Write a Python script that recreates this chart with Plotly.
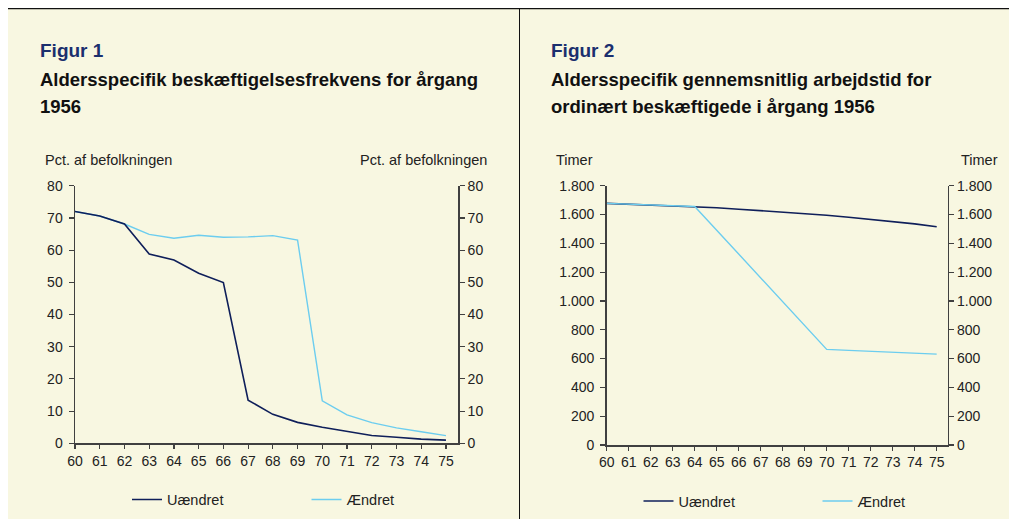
import plotly.graph_objects as go

# ---------------- data ----------------
ages = list(range(60, 76))
age_ticks = [str(a) for a in ages]

# Figur 1: Pct. af befolkningen
beskaeft_uaendret = [72.0, 70.6, 68.1, 58.8, 56.9, 52.8, 49.9, 13.4, 9.0, 6.5, 5.0, 3.6, 2.4, 1.9, 1.3, 1.0]
beskaeft_aendret = [72.0, 70.6, 68.1, 64.9, 63.7, 64.6, 64.0, 64.1, 64.5, 63.1, 13.2, 8.8, 6.4, 4.8, 3.6, 2.4]

# Figur 2: Timer
timer_uaendret = [1677, 1672, 1667, 1662, 1656, 1647, 1637, 1627, 1617, 1606, 1595, 1581, 1567, 1552, 1535, 1515]
timer_aendret = [1677, 1672, 1667, 1662, 1656, 1491, 1325, 1160, 995, 829, 664, 657, 650, 644, 637, 631]

series_names = ["Uændret", "Ændret"]
fig1_title = ["Figur 1", "Aldersspecifik beskæftigelsesfrekvens for årgang", "1956"]
fig2_title = ["Figur 2", "Aldersspecifik gennemsnitlig arbejdstid for", "ordinært beskæftigede i årgang 1956"]
fig1_unit = "Pct. af befolkningen"
fig2_unit = "Timer"

# ---------------- style ----------------
# The page keeps the browser's default 8px body margin, so the figure is
# sized to fit the 1017x527 window exactly and placed at (8, 8).
OFF = 8
W, H = 1017 - 2 * OFF, 527 - 2 * OFF
CREAM = "#f8f7e1"
NAVY = "#0f1f5a"
LIGHT = "#6ccdef"
TITLE_NAVY = "#1b2f6e"
AXIS = "#404040"
TXT = "#222222"
FONT = "Liberation Sans, Arial, Helvetica, sans-serif"


def px(x):
    """page x (pixels) -> paper x"""
    return (x - OFF) / W


def py(y):
    """page y (pixels, from top) -> paper y"""
    return 1 - (y - OFF) / H


fig = go.Figure()

# Figure 1 traces (light first, dark on top)
fig.add_trace(go.Scatter(x=ages, y=beskaeft_aendret, mode="lines", name=series_names[1],
                         line=dict(color=LIGHT, width=1.4), xaxis="x", yaxis="y", legend="legend2"))
fig.add_trace(go.Scatter(x=ages, y=beskaeft_uaendret, mode="lines", name=series_names[0],
                         line=dict(color=NAVY, width=1.6), xaxis="x", yaxis="y", legend="legend"))
# Figure 2 traces (dark first, light on top)
fig.add_trace(go.Scatter(x=ages, y=timer_uaendret, mode="lines", name=series_names[0],
                         line=dict(color=NAVY, width=1.6), xaxis="x2", yaxis="y3", legend="legend3"))
fig.add_trace(go.Scatter(x=ages, y=timer_aendret, mode="lines", name=series_names[1],
                         line=dict(color=LIGHT, width=1.4), xaxis="x2", yaxis="y3", legend="legend4"))
# invisible traces to activate the secondary (right) y axes
fig.add_trace(go.Scatter(x=[ages[0]], y=[beskaeft_uaendret[0]], mode="lines", showlegend=False,
                         hoverinfo="skip", line=dict(width=0), xaxis="x", yaxis="y2"))
fig.add_trace(go.Scatter(x=[ages[0]], y=[timer_uaendret[0]], mode="lines", showlegend=False,
                         hoverinfo="skip", line=dict(width=0), xaxis="x2", yaxis="y4"))

tickfont = dict(family=FONT, size=14, color=TXT)

xcommon = dict(range=[60, 75.5], tickmode="array", tickvals=ages, ticktext=age_ticks,
               showline=True, linecolor=AXIS, linewidth=1.5, ticks="outside", ticklen=4,
               tickcolor=AXIS, tickwidth=1.2, showgrid=False, zeroline=False, tickfont=tickfont,
               fixedrange=True, automargin=False)
ycommon = dict(showline=True, linecolor=AXIS, linewidth=1.5, ticks="outside", ticklen=5,
               tickcolor=AXIS, tickwidth=1.2, showgrid=False, zeroline=False, tickfont=tickfont,
               fixedrange=True, automargin=False)

L_dom_x = [px(75), px(458.3)]
L_dom_y = [py(443.3), py(185.7)]
R_dom_x = [px(606.7), px(947.7)]
R_dom_y = [py(445), py(185.7)]

fig.update_layout(
    template="none",
    width=W, height=H, autosize=False,
    margin=dict(l=0, r=0, t=0, b=0, pad=0, autoexpand=False),
    paper_bgcolor=CREAM, plot_bgcolor="rgba(0,0,0,0)",
    font=dict(family=FONT, color=TXT),
    separators=",.",
    xaxis=dict(domain=L_dom_x, anchor="y", **xcommon),
    yaxis=dict(domain=L_dom_y, anchor="x", range=[0, 80], dtick=10, tick0=0, side="left",
               ticklabelstandoff=3, **ycommon),
    yaxis2=dict(domain=L_dom_y, anchor="x", overlaying="y", range=[0, 80], dtick=10, tick0=0,
                side="right", **ycommon),
    xaxis2=dict(domain=R_dom_x, anchor="y3", **xcommon),
    yaxis3=dict(domain=R_dom_y, anchor="x2", range=[0, 1800], dtick=200, tick0=0, side="left",
                separatethousands=True, ticklabelstandoff=3, **ycommon),
    yaxis4=dict(domain=R_dom_y, anchor="x2", overlaying="y3", range=[0, 1800], dtick=200, tick0=0,
                side="right", separatethousands=True, **ycommon),
    showlegend=True,
)

legfont = dict(family=FONT, size=14.5, color=TXT)
leg_common = dict(orientation="h", xanchor="left", yanchor="middle", bgcolor="rgba(0,0,0,0)",
                  borderwidth=0, font=legfont, itemclick=False, itemdoubleclick=False)
fig.update_layout(
    legend=dict(x=px(127), y=py(499.5), **leg_common),
    legend2=dict(x=px(306.5), y=py(499.5), **leg_common),
    legend3=dict(x=px(638.5), y=py(501), **leg_common),
    legend4=dict(x=px(817.5), y=py(501), **leg_common),
)

# titles and unit labels
ann = []
for xs, lines in ((40, fig1_title), (551, fig2_title)):
    ann.append(dict(text="<b>%s</b>" % lines[0], x=px(xs - 2), y=py(50), xref="paper", yref="paper",
                    xanchor="left", yanchor="middle", showarrow=False,
                    font=dict(family=FONT, size=19, color=TITLE_NAVY)))
    ann.append(dict(text="<b>%s</b>" % lines[1], x=px(xs - 2), y=py(79), xref="paper", yref="paper",
                    xanchor="left", yanchor="middle", showarrow=False,
                    font=dict(family=FONT, size=18.5, color="#111111")))
    ann.append(dict(text="<b>%s</b>" % lines[2], x=px(xs - 2), y=py(106), xref="paper", yref="paper",
                    xanchor="left", yanchor="middle", showarrow=False,
                    font=dict(family=FONT, size=18.5, color="#111111")))

unitfont = dict(family=FONT, size=14.5, color=TXT)
ann.append(dict(text=fig1_unit, x=px(43), y=py(160.5), xref="paper", yref="paper", xanchor="left",
                yanchor="middle", showarrow=False, font=unitfont))
ann.append(dict(text=fig1_unit, x=px(489), y=py(160.5), xref="paper", yref="paper", xanchor="right",
                yanchor="middle", showarrow=False, font=unitfont))
ann.append(dict(text=fig2_unit, x=px(554), y=py(160.5), xref="paper", yref="paper", xanchor="left",
                yanchor="middle", showarrow=False, font=unitfont))
ann.append(dict(text=fig2_unit, x=px(1000), y=py(160.5), xref="paper", yref="paper", xanchor="right",
                yanchor="middle", showarrow=False, font=unitfont))
fig.update_layout(annotations=ann)

# top rule and vertical divider
shapes = [
    dict(type="line", xref="paper", yref="paper", x0=0, x1=1, y0=py(8.6), y1=py(8.6),
         line=dict(color="#111111", width=1.2)),
    dict(type="line", xref="paper", yref="paper", x0=px(519.5), x1=px(519.5), y0=0, y1=py(8.6),
         line=dict(color="#111111", width=1)),
]
fig.update_layout(shapes=shapes)

fig.write_html("out.html", config={"displayModeBar": False, "staticPlot": True})
